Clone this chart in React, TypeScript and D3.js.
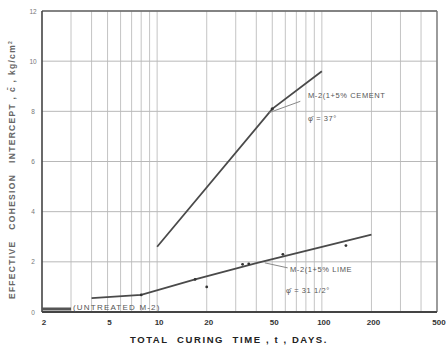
import * as d3 from "d3";

const W = 446;
const H = 348;
const margin = { top: 11, right: 9, bottom: 36, left: 42 };

// cement-treated line (days, kg/cm2)
const cementT = [10, 50, 100];
const cementC = [2.6, 8.1, 9.6];
const cementPtsT = [50];
const cementPtsC = [8.1];

// lime-treated line
const limeT = [4, 8, 17, 40, 200];
const limeC = [0.55, 0.68, 1.3, 1.95, 3.08];
const limePtsT = [8, 17, 20, 33, 36, 58, 140];
const limePtsC = [0.68, 1.3, 1.0, 1.9, 1.92, 2.3, 2.65];

// untreated
const untreatedT = [2, 3];
const untreatedC = [0.12, 0.12];

const xTicks = [2, 5, 10, 20, 50, 100, 200, 500];
const yTicks = [0, 2, 4, 6, 8, 10, 12];

export default function App() {
  const iw = W - margin.left - margin.right;
  const ih = H - margin.top - margin.bottom;

  const x = d3.scaleLog().domain([2, 500]).range([margin.left, margin.left + iw]);
  const y = d3.scaleLinear().domain([0, 12]).range([margin.top + ih, margin.top]);

  // minor verticals at every integer multiple inside each decade
  const minor: number[] = [];
  [1, 10, 100].forEach((d) => {
    for (let k = 1; k <= 9; k++) {
      const v = d * k;
      if (v > 2 && v <= 500) minor.push(v);
    }
  });
  minor.push(500);

  const line = d3
    .line<number>()
    .x((d) => x(d));

  const path = (ts: number[], cs: number[]) =>
    line.y((_, i) => y(cs[i]))(ts) || "";

  const font = "'Liberation Sans', Arial, sans-serif";
  const ink = "#4a4a4a";

  return (
    <svg
      width={W}
      height={H}
      style={{ position: "absolute", left: 0, top: 0, background: "#fff" }}
      fontFamily={font}
    >
      {/* grid */}
      {minor.map((v) => (
        <line key={"v" + v} x1={x(v)} x2={x(v)} y1={y(12)} y2={y(0)} stroke="#c4c4c4" strokeWidth={1} />
      ))}
      {yTicks.map((v) => (
        <line key={"h" + v} x1={x(2)} x2={x(500)} y1={y(v)} y2={y(v)} stroke="#b8b8b8" strokeWidth={1} />
      ))}

      {/* frame */}
      <line x1={x(2)} x2={x(500)} y1={y(12)} y2={y(12)} stroke="#666" strokeWidth={1.5} />
      <line x1={x(500)} x2={x(500)} y1={y(12)} y2={y(0)} stroke="#777" strokeWidth={1.2} />
      <line x1={x(2)} x2={x(2)} y1={y(12)} y2={y(0)} stroke="#444" strokeWidth={1.6} />
      <line x1={x(2)} x2={x(500)} y1={y(0)} y2={y(0)} stroke="#444" strokeWidth={1.8} />

      {/* y ticks */}
      {yTicks.map((v) => (
        <text key={"yt" + v} x={33} y={y(v) + 2.5} fontSize={6.5} fill="#777" textAnchor="middle">
          {v}
        </text>
      ))}

      {/* x ticks */}
      {xTicks.map((v) => (
        <text key={"xt" + v} x={x(v) + 2} y={325} fontSize={8} fontWeight="bold" fill="#333" textAnchor="middle">
          {v}
        </text>
      ))}

      {/* axis titles */}
      <text
        x={229}
        y={343}
        fontSize={9.5}
        fontWeight="bold"
        fill="#222"
        textAnchor="middle"
        letterSpacing={1.6}
        style={{ whiteSpace: "pre" }}
      >
        {"TOTAL  CURING  TIME , t , DAYS."}
      </text>
      <text
        transform={`translate(15,${y(6) + 8}) rotate(-90)`}
        fontSize={8.5}
        fontWeight="bold"
        fill="#666"
        textAnchor="middle"
        letterSpacing={1.3}
        style={{ whiteSpace: "pre" }}
      >
        {"EFFECTIVE   COHESION   INTERCEPT , c\u0304 , kg/cm"}
        <tspan fontSize={5} dy={-3}>2</tspan>
      </text>

      {/* untreated */}
      <path d={path(untreatedT, untreatedC)} fill="none" stroke="#555" strokeWidth={3} />
      <text x={73} y={310} fontSize={8} fill="#555" letterSpacing={1.2}>
        (UNTREATED M-2)
      </text>

      {/* lime */}
      <path d={path(limeT, limeC)} fill="none" stroke={ink} strokeWidth={1.8} />
      {limePtsT.map((t, i) => (
        <circle key={"lp" + i} cx={x(t)} cy={y(limePtsC[i])} r={1.4} fill="#333" />
      ))}
      <path d={path([45, 62], [1.96, 1.76])} fill="none" stroke="#888" strokeWidth={1} />
      <text x={290} y={272} fontSize={7.5} fill="#555" letterSpacing={0.6}>
        M-2(1+5% LIME
      </text>
      <text x={286} y={293} fontSize={7.5} fill="#555" letterSpacing={0.6}>
        {"\u03C6\u0304 = 31 1/2\u00B0"}
      </text>

      {/* cement */}
      <path d={path(cementT, cementC)} fill="none" stroke={ink} strokeWidth={1.8} />
      {cementPtsT.map((t, i) => (
        <circle key={"cp" + i} cx={x(t)} cy={y(cementPtsC[i])} r={1.6} fill="#333" />
      ))}
      <path d={path([48, 74], [7.95, 8.4])} fill="none" stroke="#888" strokeWidth={1} />
      <text x={308} y={98} fontSize={7.5} fill="#555" letterSpacing={0.6}>
        M-2(1+5% CEMENT
      </text>
      <text x={308} y={121} fontSize={7.5} fill="#555" letterSpacing={0.6}>
        {"\u03C6\u0304 = 37\u00B0"}
      </text>
    </svg>
  );
}
